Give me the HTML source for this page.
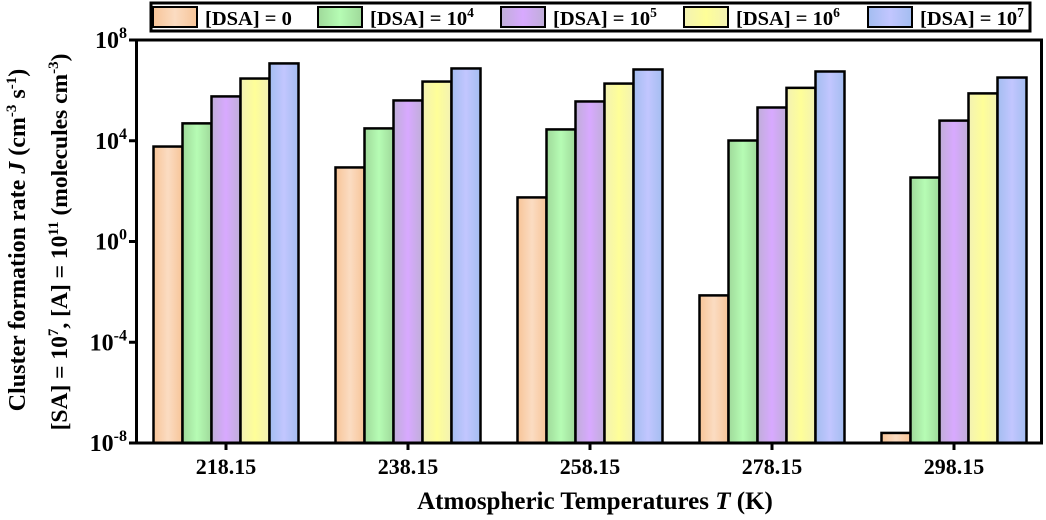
<!DOCTYPE html>
<html><head><meta charset="utf-8"><style>
body{margin:0;background:#fff;}
svg text{font-family:"Liberation Serif",serif;font-weight:bold;fill:#000;}
</style></head><body>
<svg width="1046" height="515" viewBox="0 0 1046 515">
<defs>
<linearGradient id="g0"><stop offset="0" stop-color="#f7c497"/><stop offset="0.5" stop-color="#fbdcc2"/><stop offset="1" stop-color="#f7c497"/></linearGradient>
<linearGradient id="g1"><stop offset="0" stop-color="#9fd99a"/><stop offset="0.5" stop-color="#b6fcb4"/><stop offset="1" stop-color="#9fd99a"/></linearGradient>
<linearGradient id="g2"><stop offset="0" stop-color="#bfaed8"/><stop offset="0.5" stop-color="#d8a9ff"/><stop offset="1" stop-color="#bfaed8"/></linearGradient>
<linearGradient id="g3"><stop offset="0" stop-color="#f3f2b4"/><stop offset="0.5" stop-color="#fefe98"/><stop offset="1" stop-color="#f3f2b4"/></linearGradient>
<linearGradient id="g4"><stop offset="0" stop-color="#a3bdf0"/><stop offset="0.5" stop-color="#c2c6ff"/><stop offset="1" stop-color="#a3bdf0"/></linearGradient>
</defs>
<g id="bars"></g>
<rect x="136.5" y="40" width="905" height="403" fill="none" stroke="#000" stroke-width="3"/>
<g id="axes"></g>
<rect x="151" y="3" width="879" height="28" fill="#fff" stroke="#000" stroke-width="3"/>
<g id="legend"></g>
<text x="595" y="509" font-size="25" text-anchor="middle">Atmospheric Temperatures <tspan font-style="italic">T</tspan> (K)</text>
<text transform="translate(25,240) rotate(-90)" font-size="24" text-anchor="middle">Cluster formation rate <tspan font-style="italic">J</tspan> (cm<tspan dy="-9" font-size="15">-3</tspan><tspan dy="9"> s</tspan><tspan dy="-9" font-size="15">-1</tspan><tspan dy="9">)</tspan></text>
<text transform="translate(67,242) rotate(-90)" font-size="23.5" text-anchor="middle">[SA] = 10<tspan dy="-9" font-size="15">7</tspan><tspan dy="9">, [A] = 10</tspan><tspan dy="-9" font-size="15">11</tspan><tspan dy="9"> (molecules cm</tspan><tspan dy="-9" font-size="15">-3</tspan><tspan dy="9">)</tspan></text>
</svg>
<script>
const categories=["218.15","238.15","258.15","278.15","298.15"];
const seriesNames=["0","4","5","6","7"];
const s0=[3.77,2.94,1.75,-2.14,-7.6];
const s1=[4.69,4.49,4.45,4.01,2.54];
const s2=[5.76,5.6,5.56,5.32,4.8];
const s3=[6.47,6.35,6.27,6.1,5.88];
const s4=[7.07,6.87,6.83,6.75,6.51];
const yTicks=[-8,-4,0,4,8];
const series=[s0,s1,s2,s3,s4];
const NS="http://www.w3.org/2000/svg";
function y(v){return 443-(v+8)*(403/16);}
function xc(i){return 226+i*182;}
const bars=document.getElementById('bars'),axes=document.getElementById('axes'),leg=document.getElementById('legend');
function mk(t,a,p){const e=document.createElementNS(NS,t);for(const k in a)e.setAttribute(k,a[k]);p.appendChild(e);return e;}
const bw=29;
categories.forEach((c,i)=>{
  series.forEach((s,j)=>{
    const x=xc(i)-2.5*bw+j*bw, top=y(s[i]);
    const r=mk('rect',{x:x,y:top,width:bw,height:443-top,fill:'url(#g'+j+')',stroke:'#000','stroke-width':2.5},bars);
    
    
  });
  mk('line',{x1:xc(i),x2:xc(i),y1:443,y2:450,stroke:'#000','stroke-width':3},axes);
  const t=mk('text',{x:xc(i),y:474,'font-size':22,'text-anchor':'middle'},axes);
  t.textContent=c;
  
  
});
yTicks.forEach(v=>{
  mk('line',{x1:129,x2:136,y1:y(v),y2:y(v),stroke:'#000','stroke-width':3},axes);
  const t=mk('text',{x:127,y:y(v)+8,'font-size':24,'text-anchor':'end'},axes);
  t.innerHTML='10<tspan dy="-10" font-size="16">'+v+'</tspan>';
  
  
});
const lx=[153,318,501,684,868];
seriesNames.forEach((n,j)=>{
  const r=mk('rect',{x:lx[j],y:7,width:44,height:20,fill:'url(#g'+j+')',stroke:'#000','stroke-width':2},leg);
  
  
  const t=mk('text',{x:lx[j]+52,y:25,'font-size':20.5},leg);
  t.innerHTML=j==0?'[DSA] = 0':'[DSA] = 10<tspan dy="-8" font-size="13.5">'+n+'</tspan>';
  
  
});
</script>
</body></html>
